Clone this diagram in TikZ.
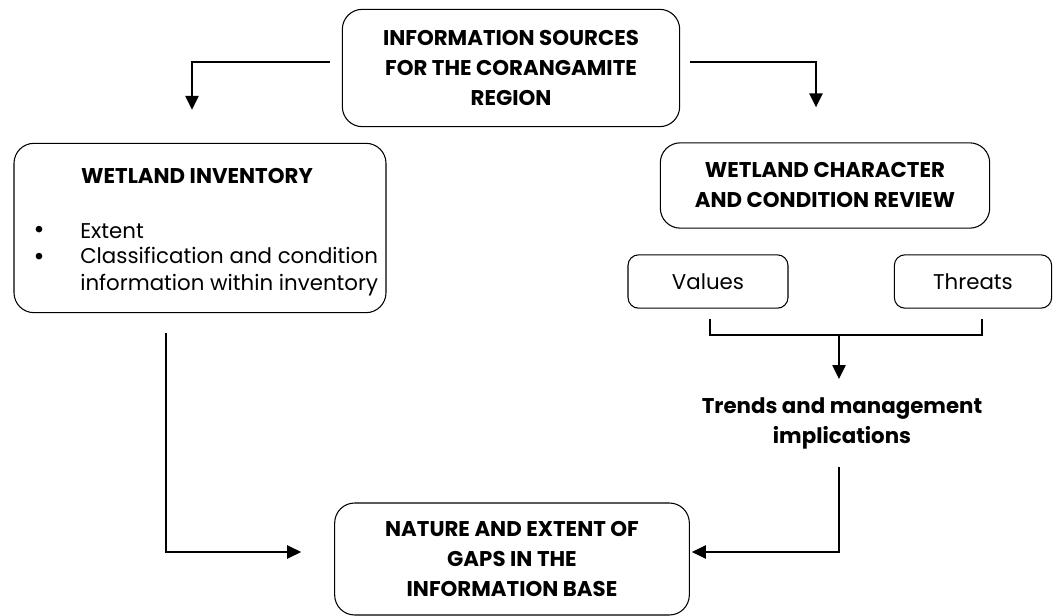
\documentclass[tikz,border=0pt]{standalone}
\usepackage{fontspec}
\setmainfont{Poppins}
\usepackage{tikz}
\usetikzlibrary{arrows.meta, calc}

\tikzset{
  box/.style={draw, rounded corners=15pt, line width=0.8pt, align=center, inner sep=0pt},
  smallbox/.style={draw, rounded corners=8pt, line width=0.8pt, inner sep=0pt},
  txt/.style={inner sep=0pt, align=center},
  dot/.style={inner sep=0pt, font=\fontsize{20}{20}\selectfont},
  link/.style={line width=1.1pt, -{Triangle[width=10pt,length=10.5pt]}}
}

\begin{document}
\begin{tikzpicture}[x=0.75pt, y=-0.75pt, font=\fontsize{16}{22.5}\selectfont]
        \useasboundingbox (0,0) rectangle (1064,616);

        % boxes
        \node[box, minimum width=253pt, minimum height=88pt] (src) at (511,68)
            {\textbf{INFORMATION SOURCES}\\\textbf{FOR THE CORANGAMITE}\\\textbf{REGION}};
        \node[box, minimum width=279pt, minimum height=127pt] (inv) at (200,228) {};
        \node[box, minimum width=247pt, minimum height=64pt] (chr) at (825,185.5)
            {\textbf{WETLAND CHARACTER}\\\textbf{AND CONDITION REVIEW}};
        \node[smallbox, minimum width=120pt, minimum height=40pt] (val) at (708,281.5) {Values};
        \node[smallbox, minimum width=118pt, minimum height=40pt] (thr) at (973,281.5) {Threats};
        \node[box, minimum width=266pt, minimum height=84pt] (gaps) at (512,559)
            {\textbf{NATURE AND EXTENT OF}\\\textbf{GAPS IN THE}\\\textbf{INFORMATION BASE}};

        % inventory text
        \node[txt] (invtitle) at (197,176) {\textbf{WETLAND INVENTORY}};
        \node[dot] (b1) at (39,232) {•};
        \node[txt, anchor=west] (ext) at (80,231) {Extent};
        \node[dot] (b2) at (39,259) {•};
        \node[txt, anchor=north west, align=left, font=\fontsize{16}{20}\selectfont] (cls) at (80,247)
            {Classification and condition\\information within inventory};

        % trends
        \node[txt] (trends) at (842,423)
            {\textbf{Trends and management}\\\textbf{implications}};

        % arrows
        \coordinate (brk) at (839,335);
        \draw[link] ($(src.west)+(-12,-6)$) -| ($(inv.north)+(-8,-33)$);
        \draw[link] ($(src.east)+(10,-6)$) -| ($(chr.north)+(-9,-35)$);
        \draw[line width=1.1pt] ($(val.south)+(2,10)$) |- (brk) -| ($(thr.south)+(9,10)$);
        \draw[link] (brk) -- ($(brk |- trends.north)+(0,-18)$);
        \draw[link] ($(trends.south)+(-3,18)$) |- ($(gaps.east)+(2,-7)$);
        \draw[link] ($(inv.south)+(-34,20)$) |- ($(gaps.west)+(-33,-7)$);
\end{tikzpicture}
\end{document}
